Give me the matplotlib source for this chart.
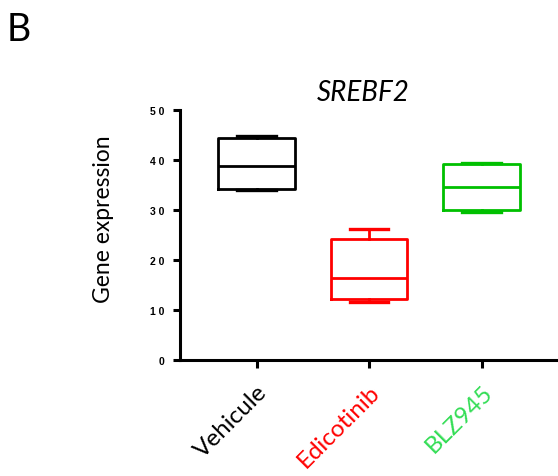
import matplotlib
matplotlib.use("Agg")
import matplotlib.pyplot as plt

# Data
groups = ["Vehicule", "Edicotinib", "BLZ945"]
whis_lo = [34.1, 11.6, 29.7]
q1 = [34.3, 12.3, 30.0]
med = [38.9, 16.5, 34.7]
q3 = [44.4, 24.3, 39.2]
whis_hi = [44.9, 26.3, 39.5]
box_colors = ["#000000", "#FF0000", "#00C000"]
label_colors = ["#000000", "#FF0000", "#33DD55"]
yticks = [0, 10, 20, 30, 40, 50]

plt.rcParams['font.family'] = ['Lato', 'DejaVu Sans']

fig = plt.figure(figsize=(5.58, 4.77), dpi=100)
ax = fig.add_axes([180/558, 1 - 361/477, 1 - 180/558, 250/477])

stats = []
for i in range(len(groups)):
    stats.append({"whislo": whis_lo[i], "q1": q1[i], "med": med[i],
                  "q3": q3[i], "whishi": whis_hi[i], "label": groups[i]})

lw = 2.0
for i, s in enumerate(stats):
    c = box_colors[i]
    ax.bxp([s], positions=[i], widths=0.68, showfliers=False,
           boxprops=dict(color=c, linewidth=lw),
           medianprops=dict(color=c, linewidth=lw),
           whiskerprops=dict(color=c, linewidth=lw),
           capprops=dict(color=c, linewidth=lw + 0.4),
           capwidths=0.34)

ax.set_xlim(-0.68, 2.68)
ax.set_ylim(0, 50)
ax.set_yticks(yticks)
ax.set_yticklabels([" ".join(str(t)) for t in yticks], fontsize=7.5,
                   fontweight="bold", family="Liberation Sans")
ax.set_xticks(range(len(groups)))
ax.set_xticklabels(groups, rotation=45, ha="right", rotation_mode="anchor",
                   fontsize=17.5)
for lbl, c in zip(ax.get_xticklabels(), label_colors):
    lbl.set_color(c)

for side in ["top", "right"]:
    ax.spines[side].set_visible(False)
for side in ["left", "bottom"]:
    ax.spines[side].set_linewidth(2.2)
ax.tick_params(axis="y", length=5, width=2.2, pad=6)
ax.tick_params(axis="x", length=6, width=2.2, pad=9)

ax.set_ylabel("Gene expression", fontsize=16.5)
ax.yaxis.set_label_coords((114 - 180) / 378, (361 - 219) / 250)
ax.set_title("SREBF2", fontsize=20, style="italic", x=(363 - 180) / 378, pad=7)
fig.text(7/558, 1 - 41/477, "B", fontsize=27)

fig.savefig("out.png", dpi=100)
